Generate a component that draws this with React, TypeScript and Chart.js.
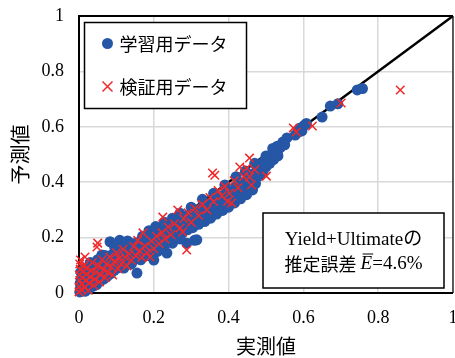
import React, { useEffect, useRef } from "react";
import { Chart, registerables } from "chart.js";

Chart.register(...registerables);

const tickValues = [0, 0.2, 0.4, 0.6, 0.8, 1];
const xTitle = "実測値";
const yTitle = "予測値";
const trainLabel = "学習用データ";
const testLabel = "検証用データ";
const noteLine1 = "Yield+Ultimateの";
const noteLine2a = "推定誤差 ";
const noteLine2b = "E";
const noteLine2c = "=4.6%";
const diagonal: [number, number][] = [
  [0, 0],
  [1, 1],
];

const trainPoints: [number, number][] = [
  [0.002, 0.004], [0.004, 0.018], [0.003, 0.035], [0.006, 0.052], [0.005, 0.075], [0.008, 0.01],
  [0.01, 0.028], [0.012, 0.045], [0.011, 0.068], [0.014, 0.088], [0.016, 0.006], [0.018, 0.022],
  [0.02, 0.04], [0.021, 0.06], [0.024, 0.082], [0.026, 0.014], [0.028, 0.034], [0.03, 0.052],
  [0.032, 0.072], [0.035, 0.096], [0.037, 0.024], [0.04, 0.045], [0.042, 0.065], [0.044, 0.108],
  [0.047, 0.03], [0.05, 0.058], [0.052, 0.083], [0.055, 0.042], [0.058, 0.07], [0.061, 0.137],
  [0.063, 0.095], [0.066, 0.05], [0.069, 0.078], [0.072, 0.115], [0.075, 0.06], [0.078, 0.088],
  [0.08, 0.125], [0.083, 0.185], [0.085, 0.07], [0.088, 0.1], [0.09, 0.14], [0.094, 0.082],
  [0.097, 0.112], [0.1, 0.155], [0.103, 0.09], [0.106, 0.122], [0.109, 0.19], [0.112, 0.1],
  [0.115, 0.135], [0.118, 0.165], [0.122, 0.108], [0.125, 0.145], [0.128, 0.118], [0.132, 0.16],
  [0.135, 0.128], [0.138, 0.175], [0.142, 0.112], [0.145, 0.15], [0.148, 0.135], [0.152, 0.18],
  [0.155, 0.072], [0.156, 0.145], [0.16, 0.16], [0.163, 0.128], [0.166, 0.19], [0.17, 0.148],
  [0.173, 0.172], [0.176, 0.135], [0.18, 0.2], [0.183, 0.16], [0.186, 0.182], [0.19, 0.148],
  [0.193, 0.21], [0.196, 0.175], [0.2, 0.119], [0.202, 0.195], [0.205, 0.16], [0.208, 0.225],
  [0.212, 0.182], [0.215, 0.205], [0.218, 0.168], [0.222, 0.232], [0.225, 0.195], [0.228, 0.215],
  [0.232, 0.178], [0.235, 0.144], [0.238, 0.24], [0.241, 0.205], [0.245, 0.225], [0.248, 0.19],
  [0.252, 0.255], [0.255, 0.215], [0.258, 0.238], [0.262, 0.2], [0.265, 0.262], [0.268, 0.228],
  [0.272, 0.25], [0.275, 0.215], [0.279, 0.272], [0.282, 0.24], [0.286, 0.258], [0.288, 0.18],
  [0.29, 0.228], [0.294, 0.282], [0.297, 0.248], [0.3, 0.268], [0.304, 0.236], [0.309, 0.19],
  [0.315, 0.192], [0.308, 0.292], [0.312, 0.258], [0.316, 0.278], [0.32, 0.248], [0.324, 0.302],
  [0.328, 0.268], [0.332, 0.288], [0.336, 0.258], [0.34, 0.315], [0.344, 0.28], [0.348, 0.3],
  [0.352, 0.27], [0.356, 0.328], [0.36, 0.292], [0.364, 0.312], [0.368, 0.285], [0.372, 0.342],
  [0.376, 0.305], [0.38, 0.325], [0.384, 0.298], [0.388, 0.355], [0.392, 0.318], [0.396, 0.338],
  [0.4, 0.31], [0.404, 0.368], [0.408, 0.332], [0.412, 0.352], [0.416, 0.325], [0.42, 0.385],
  [0.424, 0.345], [0.428, 0.365], [0.432, 0.34], [0.436, 0.398], [0.44, 0.36], [0.444, 0.382],
  [0.448, 0.355], [0.452, 0.41], [0.456, 0.378], [0.46, 0.4], [0.464, 0.372], [0.468, 0.432],
  [0.472, 0.395], [0.476, 0.418], [0.48, 0.45], [0.484, 0.425], [0.488, 0.465], [0.492, 0.44],
  [0.496, 0.478], [0.5, 0.455], [0.505, 0.49], [0.51, 0.468], [0.515, 0.5], [0.52, 0.482],
  [0.526, 0.51], [0.532, 0.495], [0.538, 0.525], [0.545, 0.545], [0.55, 0.535], [0.556, 0.56],
  [0.578, 0.57], [0.585, 0.58], [0.59, 0.595], [0.596, 0.585], [0.602, 0.605], [0.608, 0.612],
  [0.65, 0.635], [0.672, 0.675], [0.692, 0.683], [0.744, 0.733], [0.758, 0.738],
  [0.13, 0.188], [0.142, 0.178], [0.17, 0.205], [0.187, 0.225], [0.205, 0.24], [0.228, 0.255],
  [0.25, 0.27], [0.27, 0.288], [0.3, 0.31], [0.33, 0.338], [0.36, 0.36], [0.39, 0.39],
  [0.42, 0.42], [0.445, 0.44], [0.47, 0.468], [0.5, 0.495], [0.53, 0.53], [0.53, 0.508],
  [0.518, 0.522], [0.12, 0.09], [0.14, 0.105], [0.165, 0.12], [0.185, 0.135], [0.21, 0.15],
  [0.25, 0.18], [0.27, 0.195], [0.03, 0.11], [0.05, 0.12], [0.07, 0.135], [0.095, 0.168],
];

const testPoints: [number, number][] = [
  [0.0, 0.004], [0.001, 0.022], [0.002, 0.045], [0.001, 0.065], [0.003, 0.085], [0.002, 0.105],
  [0.004, 0.119], [0.006, 0.012], [0.008, 0.032], [0.009, 0.055], [0.011, 0.078], [0.013, 0.098],
  [0.016, 0.13], [0.015, 0.02], [0.018, 0.045], [0.02, 0.068], [0.022, 0.09], [0.025, 0.01],
  [0.027, 0.035], [0.03, 0.058], [0.033, 0.08], [0.036, 0.11], [0.039, 0.028], [0.042, 0.05],
  [0.045, 0.075], [0.048, 0.166], [0.05, 0.18], [0.052, 0.098], [0.055, 0.04], [0.058, 0.065],
  [0.062, 0.12], [0.066, 0.085], [0.07, 0.055], [0.074, 0.105], [0.078, 0.075], [0.082, 0.13],
  [0.086, 0.095], [0.09, 0.065], [0.095, 0.115], [0.1, 0.145], [0.104, 0.088], [0.108, 0.125],
  [0.113, 0.105], [0.118, 0.158], [0.123, 0.13], [0.128, 0.098], [0.134, 0.142], [0.14, 0.118],
  [0.146, 0.168], [0.152, 0.135], [0.157, 0.19], [0.162, 0.152], [0.168, 0.128], [0.171, 0.217],
  [0.176, 0.17], [0.182, 0.145], [0.19, 0.13], [0.194, 0.188], [0.2, 0.16], [0.207, 0.205],
  [0.214, 0.178], [0.224, 0.274], [0.222, 0.218], [0.23, 0.195], [0.238, 0.238], [0.246, 0.21],
  [0.255, 0.25], [0.264, 0.3], [0.27, 0.235], [0.277, 0.22], [0.288, 0.155], [0.28, 0.268],
  [0.292, 0.29], [0.3, 0.255], [0.31, 0.305], [0.32, 0.28], [0.33, 0.32], [0.342, 0.3],
  [0.35, 0.345], [0.357, 0.433], [0.363, 0.425], [0.36, 0.33], [0.372, 0.37], [0.382, 0.35],
  [0.39, 0.385], [0.397, 0.33], [0.408, 0.325], [0.402, 0.36], [0.415, 0.405], [0.425, 0.38],
  [0.43, 0.455], [0.44, 0.42], [0.448, 0.45], [0.456, 0.487], [0.456, 0.419], [0.461, 0.39],
  [0.47, 0.445], [0.501, 0.422], [0.573, 0.596], [0.581, 0.581], [0.624, 0.603], [0.701, 0.686],
  [0.859, 0.733],
];

const BLUE = "#2656a6";
const RED = "#f0282a";
const SERIF = "'Liberation Serif', 'Times New Roman', serif";
const CJK = "'Noto Sans CJK JP', sans-serif";
const MIXED = "'Liberation Serif', 'Noto Sans CJK JP', serif";

const overlayPlugin = {
  id: "overlay",
  beforeDatasetsDraw(chart: any) {
    const { ctx, chartArea: a } = chart;
    ctx.save();
    ctx.strokeStyle = "#000";
    ctx.lineWidth = 2;
    ctx.beginPath();
    ctx.moveTo(a.right, a.top);
    ctx.lineTo(a.left, a.top);
    ctx.lineTo(a.left, a.bottom);
    ctx.lineTo(a.right, a.bottom);
    ctx.stroke();
    ctx.lineWidth = 1.2;
    ctx.beginPath();
    ctx.moveTo(a.right, a.top);
    ctx.lineTo(a.right, a.bottom);
    ctx.stroke();
    ctx.restore();
  },
  afterDatasetsDraw(chart: any) {
    const { ctx, chartArea: a } = chart;
    ctx.save();
    // legend box
    const lx = a.left + 5.5;
    const ly = a.top + 6.5;
    const lw = 162;
    const lh = 86;
    ctx.fillStyle = "#fff";
    ctx.fillRect(lx, ly, lw, lh);
    ctx.strokeStyle = "#000";
    ctx.lineWidth = 1.5;
    ctx.strokeRect(lx, ly, lw, lh);
    const r1y = ly + 21;
    const r2y = ly + 64;
    const mx = lx + 23;
    ctx.fillStyle = BLUE;
    ctx.beginPath();
    ctx.arc(mx, r1y, 5.5, 0, Math.PI * 2);
    ctx.fill();
    ctx.strokeStyle = RED;
    ctx.lineWidth = 1.5;
    ctx.beginPath();
    ctx.moveTo(mx - 5, r2y - 5);
    ctx.lineTo(mx + 5, r2y + 5);
    ctx.moveTo(mx + 5, r2y - 5);
    ctx.lineTo(mx - 5, r2y + 5);
    ctx.stroke();
    ctx.fillStyle = "#000";
    ctx.font = `18px ${CJK}`;
    ctx.textAlign = "left";
    ctx.textBaseline = "middle";
    ctx.fillText(trainLabel, lx + 35, r1y + 1);
    ctx.fillText(testLabel, lx + 35, r2y + 1);

    // note box
    const bw = 181;
    const bh = 75;
    const bx = a.right - 190;
    const by = a.bottom - 80;
    ctx.fillStyle = "#fff";
    ctx.fillRect(bx, by, bw, bh);
    ctx.strokeStyle = "#000";
    ctx.lineWidth = 1.5;
    ctx.strokeRect(bx, by, bw, bh);
    const cx = bx + bw / 2;
    ctx.fillStyle = "#000";
    ctx.font = `19px ${MIXED}`;
    ctx.textAlign = "center";
    ctx.textBaseline = "middle";
    ctx.fillText(noteLine1, cx, by + 27);
    const fA = `18px ${CJK}`;
    const fB = `italic 19px ${SERIF}`;
    const fC = `19px ${SERIF}`;
    ctx.font = fA;
    const wA = ctx.measureText(noteLine2a).width;
    ctx.font = fB;
    const wB = ctx.measureText(noteLine2b).width;
    ctx.font = fC;
    const wC = ctx.measureText(noteLine2c).width;
    let x = cx - (wA + wB + wC) / 2;
    const y2 = by + 51;
    ctx.textAlign = "left";
    ctx.font = fA;
    ctx.fillText(noteLine2a, x, y2);
    x += wA;
    ctx.font = fB;
    ctx.fillText(noteLine2b, x, y2);
    ctx.lineWidth = 1;
    ctx.beginPath();
    ctx.moveTo(x + 2, y2 - 10);
    ctx.lineTo(x + wB + 1, y2 - 10);
    ctx.stroke();
    x += wB;
    ctx.font = fC;
    ctx.fillText(noteLine2c, x, y2);
    ctx.restore();
  },
};

export default function App() {
  const ref = useRef<HTMLCanvasElement | null>(null);
  useEffect(() => {
    document.body.style.margin = "0";
    const canvas = ref.current;
    if (!canvas) return;
    const chart = new Chart(canvas, {
      type: "scatter",
      data: {
        datasets: [
          {
            type: "line",
            label: "y=x",
            data: diagonal.map(([x, y]) => ({ x, y })),
            borderColor: "#000",
            borderWidth: 2.5,
            pointRadius: 0,
            fill: false,
            order: 3,
          } as any,
          {
            label: trainLabel,
            data: trainPoints.map(([x, y]) => ({ x, y })),
            backgroundColor: BLUE,
            borderColor: BLUE,
            borderWidth: 0,
            pointRadius: 5.5,
            clip: false,
            order: 2,
          },
          {
            label: testLabel,
            data: testPoints.map(([x, y]) => ({ x, y })),
            pointStyle: "crossRot",
            borderColor: RED,
            backgroundColor: RED,
            borderWidth: 1.5,
            pointRadius: 6,
            clip: false,
            order: 1,
          },
        ],
      },
      options: {
        animation: false,
        responsive: false,
        devicePixelRatio: 1,
        layout: { autoPadding: false, padding: { top: 16, right: 2, left: 0, bottom: 0 } },
        plugins: { legend: { display: false }, tooltip: { enabled: false } },
        scales: {
          x: {
            type: "linear",
            min: 0,
            max: 1,
            afterFit(scale: any) {
              scale.height = 65;
              scale.paddingLeft = 0;
              scale.paddingRight = 0;
            },
            afterBuildTicks(scale: any) {
              scale.ticks = tickValues.map((v) => ({ value: v }));
            },
            grid: { color: "#d9d9d9", lineWidth: 1.5, drawTicks: false },
            border: { display: false },
            ticks: {
              padding: 14,
              color: "#000",
              font: { family: SERIF, size: 18 },
              maxRotation: 0,
              callback: (v: any) => String(v),
            },
            title: {
              display: true,
              text: xTitle,
              color: "#000",
              font: { family: CJK, size: 20 },
              padding: { top: 0, bottom: 0 },
            },
          },
          y: {
            type: "linear",
            min: 0,
            max: 1,
            afterFit(scale: any) {
              scale.width = 79;
              scale.paddingTop = 0;
              scale.paddingBottom = 0;
            },
            afterBuildTicks(scale: any) {
              scale.ticks = tickValues.map((v) => ({ value: v }));
            },
            grid: { color: "#d9d9d9", lineWidth: 1.5, drawTicks: false },
            border: { display: false },
            ticks: {
              padding: 15,
              color: "#000",
              font: { family: SERIF, size: 18 },
              callback: (v: any) => String(v),
            },
            title: {
              display: true,
              text: yTitle,
              color: "#000",
              font: { family: CJK, size: 20 },
              padding: { top: 8, bottom: 0 },
            },
          },
        },
      },
      plugins: [overlayPlugin],
    });
    return () => chart.destroy();
  }, []);
  return (
    <div style={{ width: 455, height: 358 }}>
      <canvas ref={ref} width={455} height={358} style={{ display: "block" }} />
    </div>
  );
}
